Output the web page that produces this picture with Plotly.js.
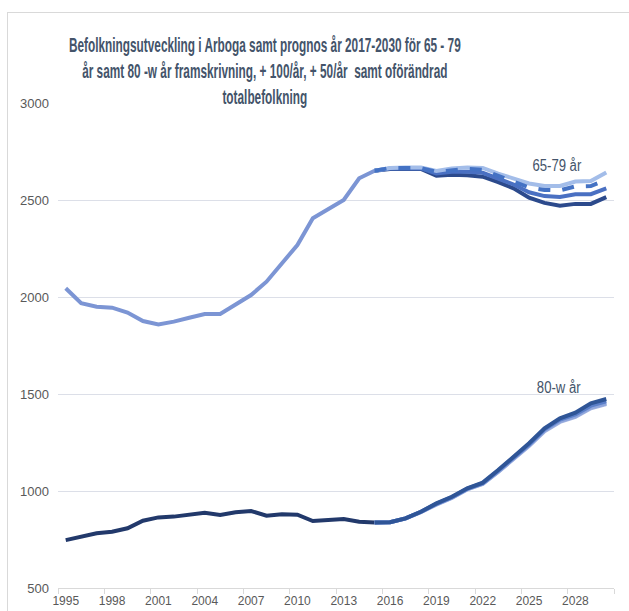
<!DOCTYPE html>
<html>
<head>
<meta charset="utf-8">
<script src="https://cdn.plot.ly/plotly-3.0.1.min.js"></script>
<style>
html,body{margin:0;padding:0;background:#fff;overflow:hidden;}
#chart{width:629px;height:611px;position:absolute;left:0;top:0;}
#frame{position:absolute;left:7px;top:12px;width:640px;height:620px;border-left:1px solid #d9d9d9;border-top:1px solid #d9d9d9;pointer-events:none;}
</style>
</head>
<body>
<div id="chart"></div>
<div id="frame"></div>
<script>
// Years (category axis)
const years = [];
for (let y = 1995; y <= 2030; y++) years.push(y);

const histYears = years.filter(y => y <= 2015);
const progYears = years.filter(y => y >= 2015);

// 65-79 år, utfall 1995-2015
const hist6579 = [2045, 1968, 1950, 1945, 1920, 1876, 1859, 1873, 1893, 1912, 1912,
                  1959, 2010, 2079, 2174, 2268, 2406, 2453, 2500, 2612, 2651];
// 65-79 år, prognos 2015-2030 (fyra alternativ)
const p6579_a = [2651, 2665, 2668, 2668, 2650, 2662, 2668, 2665, 2636, 2612, 2585, 2572, 2572, 2595, 2598, 2642];
const p6579_b = [2651, 2665, 2665, 2665, 2645, 2655, 2660, 2655, 2625, 2598, 2565, 2552, 2550, 2570, 2572, 2605];
const p6579_c = [2651, 2663, 2663, 2663, 2637, 2645, 2645, 2640, 2610, 2580, 2540, 2520, 2515, 2530, 2530, 2560];
const p6579_d = [2651, 2660, 2660, 2660, 2625, 2630, 2628, 2620, 2592, 2560, 2512, 2485, 2470, 2480, 2480, 2515];

// 80-w år, utfall 1995-2015
const hist80 = [747, 764, 782, 790, 808, 847, 864, 868, 880, 888, 876,
                890, 897, 873, 880, 878, 845, 851, 856, 842, 837];
// 80-w år, prognos 2015-2030
const p80_a = [837, 839, 859, 893, 936, 970, 1014, 1043, 1108, 1177, 1246, 1323, 1375, 1404, 1452, 1474];
const p80_b = [837, 839, 859, 893, 934, 968, 1012, 1040, 1104, 1172, 1240, 1318, 1368, 1395, 1440, 1462];
const p80_c = [837, 839, 859, 892, 932, 966, 1010, 1038, 1100, 1168, 1236, 1312, 1360, 1386, 1430, 1452];
const p80_d = [837, 839, 858, 891, 930, 964, 1008, 1036, 1098, 1165, 1232, 1308, 1356, 1382, 1426, 1448];

const titleLines = [
  'Befolkningsutveckling i Arboga samt prognos år 2017-2030 för 65 - 79',
  'år samt 80 -w år framskrivning, + 100/år, + 50/år  samt oförändrad',
  'totalbefolkning'
];
const yTicks = [500, 1000, 1500, 2000, 2500, 3000];

const FONT = '"Liberation Sans", Arial, sans-serif';

function line(x, y, color, width, dash) {
  return {x: x, y: y, type: 'scatter', mode: 'lines',
          line: {color: color, width: width, dash: dash || 'solid'},
          hoverinfo: 'x+y'};
}

const data = [
  line(histYears, hist6579, '#7c95d4', 4),
  line(progYears, p6579_d, '#2c4a8c', 4),
  line(progYears, p6579_c, '#4a70c2', 4),
  line(progYears, p6579_a, '#a3bde9', 4),
  line(progYears, p6579_b, '#4472c4', 4, 'dash'),
  line(histYears, hist80, '#22396b', 4),
  line(progYears, p80_d, '#a3b3e0', 4),
  line(progYears, p80_c, '#8fa6dc', 4),
  line(progYears, p80_b, '#5b7fc9', 4),
  line(progYears, p80_a, '#2f5597', 4)
];

const layout = {
  width: 629, height: 611,
  margin: {l: 58, r: 15, t: 103, b: 23, pad: 0},
  paper_bgcolor: '#ffffff', plot_bgcolor: '#ffffff',
  showlegend: false,
  font: {family: FONT, size: 12, color: '#595959'},
  title: {
    text: titleLines.join('<br>'),
    x: 0.421, xanchor: 'center', xref: 'container',
    y: 0.94, yanchor: 'top', yref: 'container',
    font: {family: FONT, size: 20, color: '#44546a', weight: 'bold'}
  },
  xaxis: {
    type: 'category',
    categoryorder: 'array', categoryarray: years,
    range: [-0.5, years.length - 0.5],
    tickmode: 'linear', tick0: 0, dtick: 3,
    tickson: 'boundaries',
    tickangle: 0,
    ticks: 'outside', ticklen: 5, tickcolor: '#d9d9d9', tickwidth: 1,
    showgrid: false, zeroline: false,
    showline: true, linecolor: '#d9d9d9', linewidth: 1,
    tickfont: {family: FONT, size: 12, color: '#595959'},
    ticklabelstandoff: 2
  },
  yaxis: {
    range: [500, 3000],
    tickvals: yTicks,
    showgrid: true, gridcolor: '#dcdfe8', gridwidth: 1,
    zeroline: false, showline: false, ticks: '',
    tickfont: {family: FONT, size: 13, color: '#595959'},
    ticklabelstandoff: 8
  },
  annotations: [
    {text: '65-79 år', xref: 'paper', x: 0.8975, xanchor: 'center', yref: 'y', y: 2680, yanchor: 'middle',
     showarrow: false, font: {family: FONT, size: 16, color: '#44546a'}},
    {text: '80-w år', xref: 'paper', x: 0.901, xanchor: 'center', yref: 'y', y: 1532, yanchor: 'middle',
     showarrow: false, font: {family: FONT, size: 16, color: '#44546a'}}
  ]
};

function condense(el, sx, extra) {
  const b = el.getBBox();
  const c = b.x + b.width / 2;
  const prev = el.getAttribute('transform') || '';
  el.setAttribute('transform', prev + ' ' + (extra || '') +
    ' translate(' + c + ',0) scale(' + sx + ',1) translate(' + (-c) + ',0)');
  return b;
}

Plotly.newPlot('chart', data, layout, {staticPlot: true, displayModeBar: false}).then(function (gd) {
  // narrow the title horizontally (reference uses a condensed face) and centre its middle line at y=71
  const t = gd.querySelector('.gtitle');
  if (t) {
    const bb = t.getBBox();
    const sx = Math.min(1, 392 / bb.width);
    const dy = 71 - (bb.y + bb.height / 2);
    condense(t, sx, 'translate(0,' + dy + ')');
  }
  gd.querySelectorAll('.annotation-text').forEach(function (el) {
    condense(el, 0.82);
  });
});
</script>
</body>
</html>
